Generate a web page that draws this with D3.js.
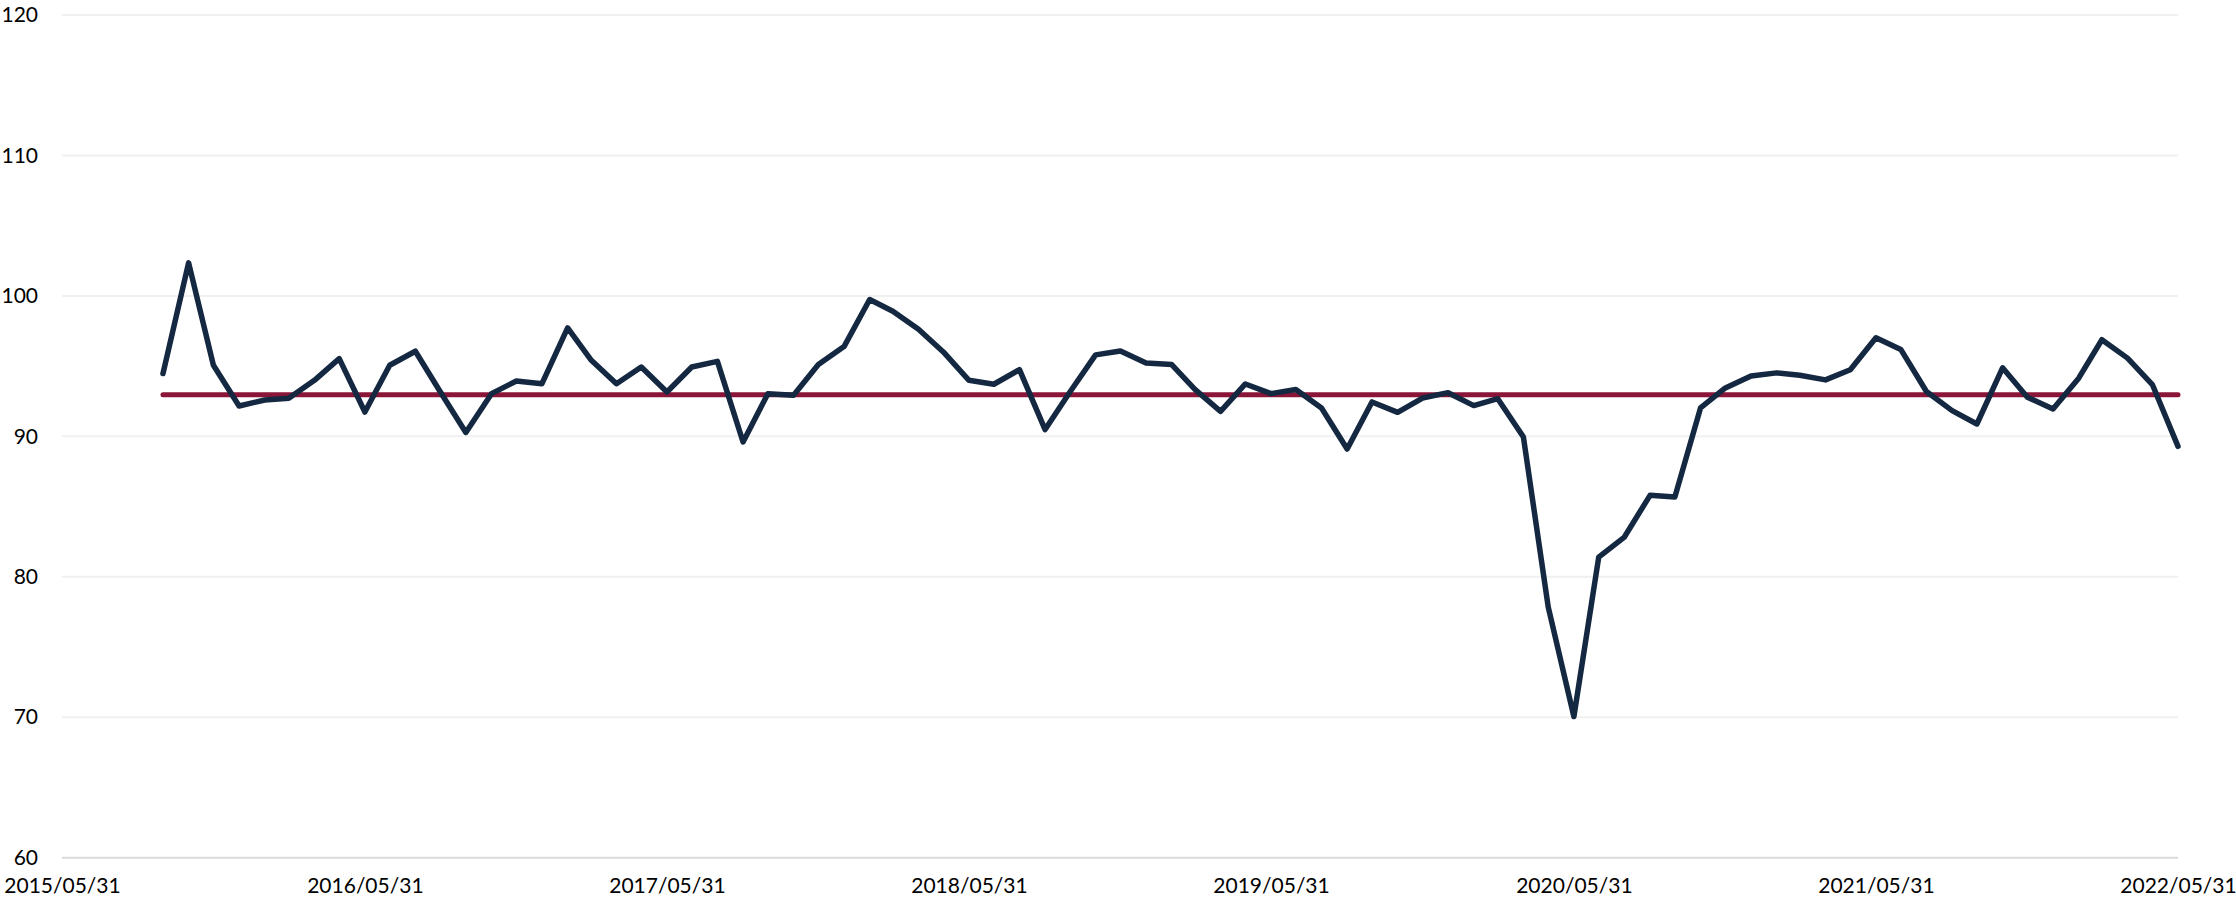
<!DOCTYPE html>
<html>
<head>
<meta charset="utf-8">
<script src="https://cdn.jsdelivr.net/npm/d3@7"></script>
<style>
  body { margin: 0; background: #fff; }
  text { font-family: Lato, "Open Sans", sans-serif; font-size: 21px; fill: #000; }
</style>
</head>
<body>
<div id="chart"></div>
<script>
// monthly index values, 2015/09/30 .. 2022/05/31
var values = [
    94.47, 102.35, 95.06, 92.16, 92.59, 92.71, 93.99, 95.53, 91.73, 95.06,
    96.06, 93.09, 90.28, 93.04, 93.94, 93.75, 97.72, 95.46, 93.75, 94.94,
    93.16, 94.94, 95.34, 89.60, 93.04, 92.92, 95.11, 96.39, 99.74, 98.91,
    97.62, 96.01, 93.99, 93.71, 94.75, 90.48, 93.16, 95.80, 96.08, 95.23,
    95.11, 93.35, 91.78, 93.73, 93.04, 93.33, 92.02, 89.10, 92.45, 91.71,
    92.73, 93.11, 92.19, 92.68, 89.95, 77.84, 70.05, 81.40, 82.83, 85.80,
    85.68, 92.02, 93.45, 94.29, 94.52, 94.35, 94.02, 94.74, 97.02, 96.19,
    93.19, 91.83, 90.88, 94.88, 92.79, 91.95, 94.14, 96.88, 95.57, 93.69,
    89.29
];
var average = 92.97;

var xTicks = ["2015/05/31", "2016/05/31", "2017/05/31", "2018/05/31",
              "2019/05/31", "2020/05/31", "2021/05/31", "2022/05/31"];
var yTicks = [60, 70, 80, 90, 100, 110, 120];

var parse = d3.timeParse("%Y/%m/%d");
var fmt = d3.timeFormat("%Y/%m/%d");

// month-end dates for each point
var dates = d3.timeMonth.range(new Date(2015, 9, 1), new Date(2022, 6, 1))
    .map(function(d) { return d3.timeDay.offset(d, -1); });

var data = values.map(function(v, i) { return { date: dates[i], valor: v }; });

var width = 2236, height = 901;
var plotLeft = 62, plotRight = 2178, plotTop = 15, plotBottom = 857.7;

var x = d3.scaleTime()
    .domain([parse(xTicks[0]), parse(xTicks[xTicks.length - 1])])
    .range([plotLeft, plotRight]);

var y = d3.scaleLinear()
    .domain([60, 120])
    .range([plotBottom, plotTop]);

var svg = d3.select("#chart").append("svg")
    .attr("width", width)
    .attr("height", height);

// gridlines
svg.append("g")
    .selectAll("line")
    .data(yTicks)
    .enter().append("line")
    .attr("x1", plotLeft)
    .attr("x2", plotRight)
    .attr("y1", function(d) { return y(d); })
    .attr("y2", function(d) { return y(d); })
    .style("stroke", function(d) { return d == 60 ? "#d9d9d9" : "#f0f0f0"; })
    .style("stroke-width", 2);

// y axis labels
var yAxis = d3.axisLeft(y).tickValues(yTicks).tickSize(0).tickPadding(24);
svg.append("g")
    .attr("transform", "translate(" + plotLeft + ",0)")
    .call(yAxis)
    .call(function(g) { g.select(".domain").remove(); })
    .selectAll("text")
    .style("font-family", "Lato, 'Open Sans', sans-serif")
    .style("font-size", "21px")
    .style("fill", "#000");

// x axis labels
var xAxis = d3.axisBottom(x)
    .tickValues(xTicks.map(parse))
    .tickFormat(fmt)
    .tickSize(0)
    .tickPadding(20);
svg.append("g")
    .attr("transform", "translate(0," + plotBottom + ")")
    .call(xAxis)
    .call(function(g) { g.select(".domain").remove(); })
    .selectAll("text")
    .style("font-family", "Lato, 'Open Sans', sans-serif")
    .style("font-size", "21px")
    .style("fill", "#000");

// average line
svg.append("line")
    .attr("x1", x(dates[0]))
    .attr("x2", x(dates[dates.length - 1]))
    .attr("y1", y(average))
    .attr("y2", y(average))
    .style("stroke", "#8a1538")
    .style("stroke-width", 5)
    .style("stroke-linecap", "round");

// index line
var line = d3.line()
    .x(function(d) { return x(d.date); })
    .y(function(d) { return y(d.valor); });

svg.append("path")
    .datum(data)
    .attr("d", line)
    .style("fill", "none")
    .style("stroke", "#142841")
    .style("stroke-width", 5.5)
    .style("stroke-linejoin", "round")
    .style("stroke-linecap", "round");
</script>
</body>
</html>
